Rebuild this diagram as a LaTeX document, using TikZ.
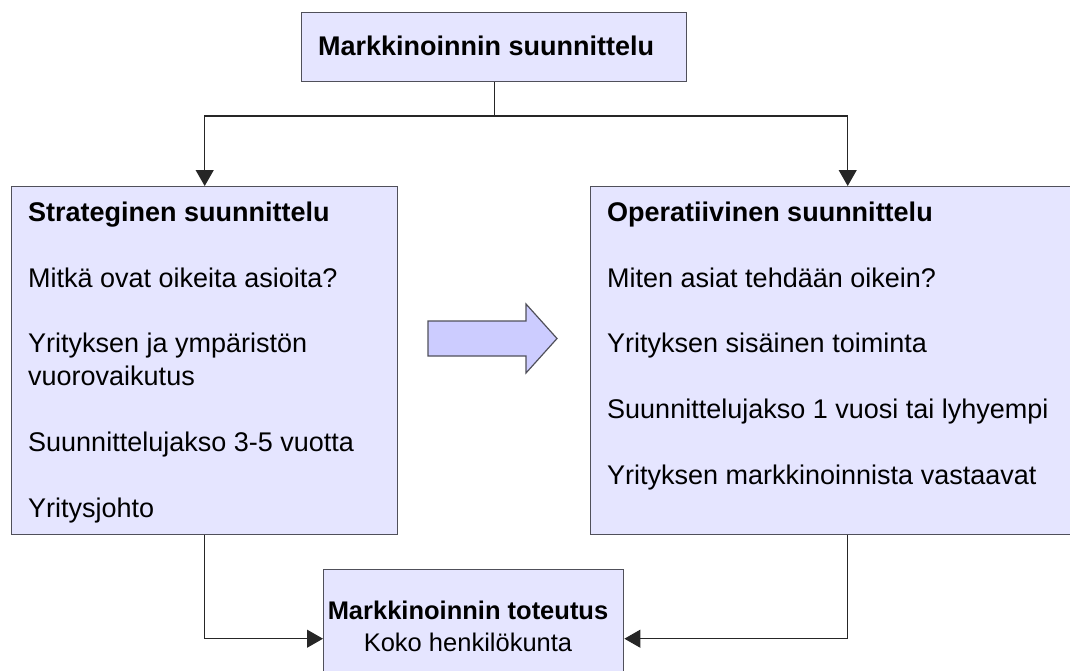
\documentclass[tikz,border=0pt]{standalone}
\usepackage{fontspec}
\setmainfont{Liberation Sans}
\usetikzlibrary{arrows.meta}
\definecolor{boxfill}{RGB}{229,229,255}
\definecolor{arrowfill}{RGB}{204,204,255}
\definecolor{boxline}{RGB}{80,80,90}
\begin{document}
\begin{tikzpicture}[x=1pt,y=-1pt,
  panel/.style={draw=boxline,line width=1.4pt,fill=boxfill,rectangle,inner sep=0pt,anchor=north west},
  txt/.style={anchor=base west,inner sep=0pt,font=\fontsize{27}{32}\selectfont},
  btxt/.style={txt,font=\fontsize{27}{32}\selectfont\bfseries},
  stxt/.style={anchor=base,inner sep=0pt,font=\fontsize{25.5}{32}\selectfont},
  sbtxt/.style={stxt,font=\fontsize{25.5}{32}\selectfont\bfseries},
  link/.style={draw=black!85,line width=1.1pt,-{Triangle[width=18pt,length=16pt]}},
  bigarrow/.style={draw=boxline,line width=1.2pt,fill=arrowfill,line join=miter}]
\useasboundingbox (0,0) rectangle (1070,670);

% boxes
\node[panel,minimum width=385pt,minimum height=69pt] (plan) at (301,12) {};
\node[panel,minimum width=386pt,minimum height=348pt] (strat) at (11,186) {};
\node[panel,minimum width=514pt,minimum height=348pt] (oper) at (590,186) {};
\node[panel,minimum width=300pt,minimum height=138pt] (impl) at (323,569) {};

% texts
\node[btxt] (tplan) at (318,55) {Markkinoinnin suunnittelu};

\node[btxt] (s1) at (28,221) {Strateginen suunnittelu};
\node[txt] (s2) at (28,287) {Mitkä ovat oikeita asioita?};
\node[txt] (s3) at (28,352) {Yrityksen ja ympäristön};
\node[txt] (s4) at (28,385) {vuorovaikutus};
\node[txt] (s5) at (28,451) {Suunnittelujakso 3-5 vuotta};
\node[txt] (s6) at (28,517) {Yritysjohto};

\node[btxt] (o1) at (607,221) {Operatiivinen suunnittelu};
\node[txt] (o2) at (607,287) {Miten asiat tehdään oikein?};
\node[txt] (o3) at (607,352) {Yrityksen sisäinen toiminta};
\node[txt] (o4) at (607,418) {Suunnittelujakso 1 vuosi tai lyhyempi};
\node[txt] (o5) at (607,484) {Yrityksen markkinoinnista vastaavat};

\node[sbtxt] (i1) at (468,619) {Markkinoinnin toteutus};
\node[stxt] (i2) at (468,651) {Koko henkilökunta};

% connectors
\coordinate (split) at (plan.south |- 0,116);
\draw[link] (plan.south) -- (split) -| (strat.north);
\draw[link] (split) -| (oper.north);
\draw[link] (strat.south) |- (impl.west);
\draw[link] (oper.south) |- (impl.east);

% block arrow between the two planning levels
\draw[bigarrow] (428,321) -- (526,321) -- (526,304) -- (557,338.5)
  -- (526,373) -- (526,356) -- (428,356) -- cycle;
\end{tikzpicture}
\end{document}
